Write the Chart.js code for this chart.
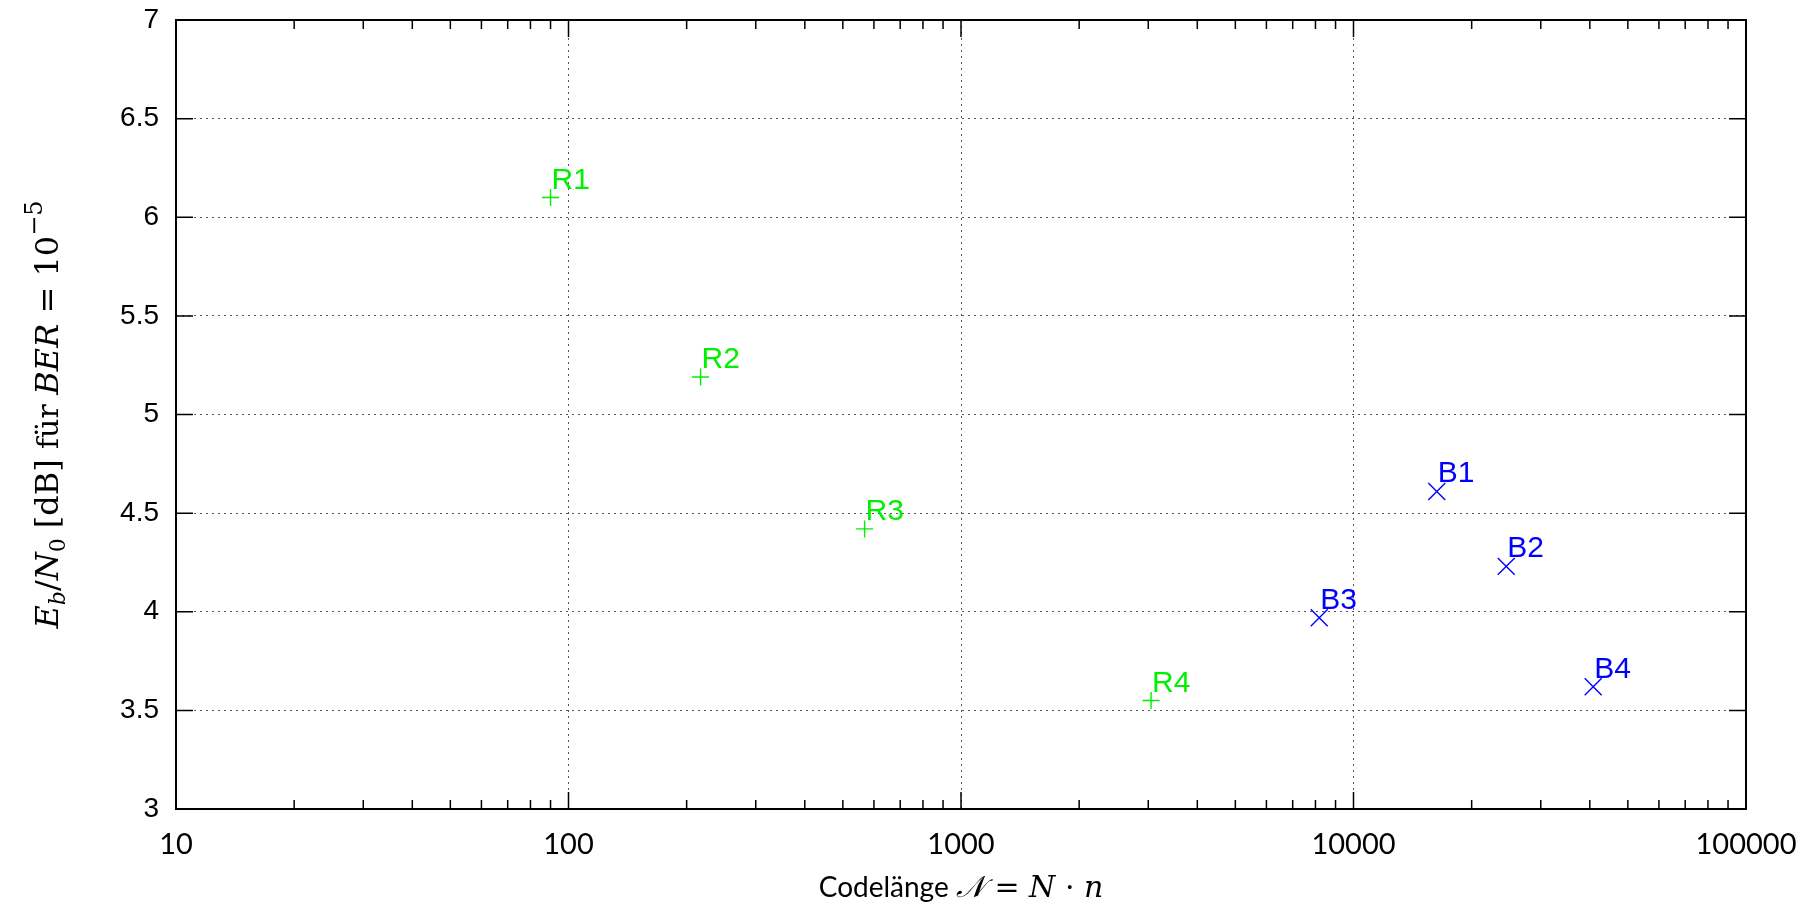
<!DOCTYPE html>
<html>
<head>
<meta charset="utf-8">
<script src="https://cdn.jsdelivr.net/npm/chart.js@4.4.0/dist/chart.umd.min.js"></script>
<style>
body { margin: 0; background: #fff; }
canvas { display: block; }
</style>
</head>
<body>
<canvas id="berChart" width="1809" height="905"></canvas>
<script>
// R codes (green +)
const rNames = ['R1', 'R2', 'R3', 'R4'];
const rLengths = [90, 217, 568, 3050];
const rEbN0 = [6.10, 5.19, 4.42, 3.55];

// B codes (blue x)
const bNames = ['B1', 'B2', 'B3', 'B4'];
const bLengths = [16300, 24500, 8180, 40800];
const bEbN0 = [4.61, 4.23, 3.97, 3.62];

const xTicks = [10, 100, 1000, 10000, 100000];
const yTicks = [3, 3.5, 4, 4.5, 5, 5.5, 6, 6.5, 7];

function toPoints(xs, ys) {
    return xs.map((x, i) => ({ x: x, y: ys[i] }));
}

// draw a line of text made of pieces with their own font / offset
function drawRich(ctx, parts, x, y) {
    let w = 0;
    parts.forEach(p => { ctx.font = p.font; w += ctx.measureText(p.t).width; });
    let cx = x - w / 2;
    ctx.textAlign = 'left';
    ctx.textBaseline = 'alphabetic';
    parts.forEach(p => {
        ctx.font = p.font;
        ctx.fillText(p.t, cx, y + (p.dy || 0));
        cx += ctx.measureText(p.t).width;
    });
}

const serif = '"DejaVu Serif", "Liberation Serif", serif';
const yTitle = [
    { t: 'E', font: 'italic 32px ' + serif },
    { t: 'b', font: 'italic 22px ' + serif, dy: 7 },
    { t: '/', font: '32px ' + serif },
    { t: 'N', font: 'italic 32px ' + serif },
    { t: '0', font: '22px ' + serif, dy: 7 },
    { t: ' [dB] ', font: '32px ' + serif },
    { t: 'für ', font: '30px ' + serif },
    { t: 'BER', font: 'italic 32px ' + serif },
    { t: ' = ', font: '32px ' + serif },
    { t: '10', font: '32px ' + serif },
    { t: '\u22125', font: '24px ' + serif, dy: -16 }
];
const xTitle = [
    { t: 'Codel\u00e4nge ', font: '28px Lato, "Open Sans", sans-serif' },
    { t: '\uD835\uDCA9', font: 'italic 30px ' + serif },
    { t: ' = ', font: '30px ' + serif },
    { t: 'N', font: 'italic 30px ' + serif },
    { t: ' \u00b7 ', font: '30px ' + serif },
    { t: 'n', font: 'italic 30px ' + serif }
];

const framePlugin = {
    id: 'frame',
    afterDatasetsDraw(chart) {
        const { ctx, chartArea: a, scales: { x, y } } = chart;
        ctx.save();
        ctx.strokeStyle = '#000';
        ctx.fillStyle = '#000';
        // inward tick marks on all four sides
        ctx.lineWidth = 1.5;
        ctx.beginPath();
        for (let d = 10; d < 100000; d *= 10) {
            for (let m = 1; m <= 9; m++) {
                const px = x.getPixelForValue(d * m);
                const len = m === 1 ? 17 : 9;
                ctx.moveTo(px, a.bottom); ctx.lineTo(px, a.bottom - len);
                ctx.moveTo(px, a.top); ctx.lineTo(px, a.top + len);
            }
        }
        yTicks.forEach(v => {
            const py = y.getPixelForValue(v);
            ctx.moveTo(a.left, py); ctx.lineTo(a.left + 17, py);
            ctx.moveTo(a.right, py); ctx.lineTo(a.right - 17, py);
        });
        ctx.stroke();
        ctx.lineWidth = 2;
        ctx.strokeRect(a.left, a.top, a.right - a.left, a.bottom - a.top);

        // tick labels
        ctx.font = '28px "Liberation Sans", Arial, sans-serif';
        ctx.textAlign = 'right';
        ctx.textBaseline = 'middle';
        yTicks.forEach(v => ctx.fillText(String(v), a.left - 17, y.getPixelForValue(v)));
        ctx.font = '29px Lato, "Liberation Sans", sans-serif';
        ctx.textAlign = 'center';
        xTicks.forEach(v => ctx.fillText(String(v), x.getPixelForValue(v), a.bottom + 36));

        // point labels
        ctx.font = '30px "Liberation Sans", Arial, sans-serif';
        ctx.textAlign = 'left';
        ctx.textBaseline = 'alphabetic';
        chart.data.datasets.forEach((ds, i) => {
            ctx.fillStyle = ds.borderColor;
            chart.getDatasetMeta(i).data.forEach((pt, j) => {
                ctx.fillText(ds.names[j], pt.x + 1, pt.y - 9);
            });
        });

        // axis titles
        ctx.fillStyle = '#000';
        drawRich(ctx, xTitle, (a.left + a.right) / 2, 897);
        ctx.translate(46, (a.top + a.bottom) / 2);
        ctx.rotate(-Math.PI / 2);
        drawRich(ctx, yTitle, 0, 12);
        ctx.restore();
    }
};

const ctx = document.getElementById('berChart').getContext('2d');
const berChart = new Chart(ctx, {
    type: 'scatter',
    data: {
        datasets: [{
            label: 'R',
            names: rNames,
            data: toPoints(rLengths, rEbN0),
            pointStyle: 'cross',
            pointRadius: 8.5,
            borderColor: '#00f000',
            backgroundColor: '#00f000',
            borderWidth: 1.4
        }, {
            label: 'B',
            names: bNames,
            data: toPoints(bLengths, bEbN0),
            pointStyle: 'crossRot',
            pointRadius: 12,
            borderColor: '#0000ff',
            backgroundColor: '#0000ff',
            borderWidth: 1.4
        }]
    },
    options: {
        responsive: false,
        animation: false,
        events: [],
        layout: { padding: { left: 176, right: 63, top: 20, bottom: 96 } },
        plugins: { legend: { display: false }, tooltip: { enabled: false } },
        scales: {
            x: {
                type: 'logarithmic',
                min: 10,
                max: 100000,
                afterBuildTicks: s => { s.ticks = xTicks.map(v => ({ value: v })); },
                ticks: { display: false },
                grid: { color: '#555', lineWidth: 1, drawTicks: false },
                border: { display: false, dash: [2, 4] }
            },
            y: {
                type: 'linear',
                min: 3,
                max: 7,
                afterBuildTicks: s => { s.ticks = yTicks.map(v => ({ value: v })); },
                ticks: { display: false },
                grid: { color: '#555', lineWidth: 1, drawTicks: false },
                border: { display: false, dash: [2, 4] }
            }
        }
    },
    plugins: [framePlugin]
});
</script>
</body>
</html>
